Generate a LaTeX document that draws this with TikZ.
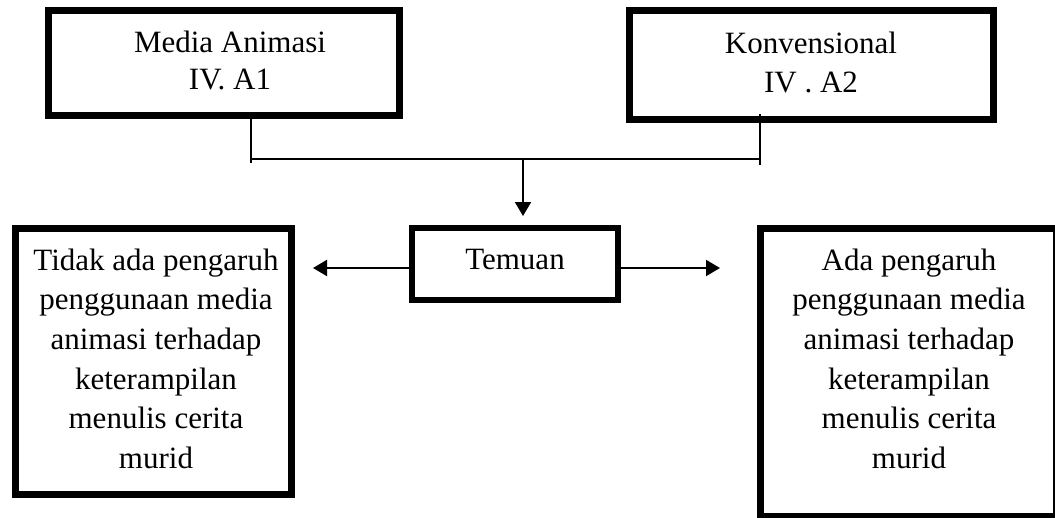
\documentclass[tikz,border=0pt]{standalone}
\usepackage{fontspec}
\setmainfont{Liberation Serif}
\usetikzlibrary{arrows.meta}
\begin{document}
\begin{tikzpicture}[x=1pt,y=-1pt,
  thickbox/.style={draw, line width=7pt, inner sep=0pt, outer sep=0pt},
  thinline/.style={line width=2pt},
  arr/.style={thinline, -{Triangle[width=16pt,length=14pt]}},
  txt/.style={align=center, inner sep=0pt, outer sep=0pt}]
\useasboundingbox (0,0) rectangle (1055,517);
% boxes
\node[thickbox, minimum width=351pt, minimum height=105pt] (A) at (224,63) {};
\node[thickbox, minimum width=364pt, minimum height=109pt] (B) at (811.5,65) {};
\node[thickbox, line width=6pt, minimum width=206pt, minimum height=72pt] (T) at (515,264) {};
\node[thickbox, minimum width=276pt, minimum height=266pt] (L) at (153.5,361.5) {};
\node[thickbox, minimum width=296pt, minimum height=288pt] (R) at (908.5,372.5) {};
% texts
\node[txt, anchor=north, font=\fontsize{31}{37.5}\selectfont] (At) at (230,30.8) {Media Animasi\\IV. A1};
\node[txt, anchor=north, font=\fontsize{31}{39}\selectfont] (Bt) at (811,31.8) {Konvensional\\IV . A2};
\node[txt, anchor=base, font=\fontsize{31}{37}\selectfont] (Tt) at (515,269) {Temuan};
\node[txt, anchor=north, font=\fontsize{31}{39.6}\selectfont] (Lt) at (156,248.8) {Tidak ada pengaruh\\penggunaan media\\animasi terhadap\\keterampilan\\menulis cerita\\murid};
\node[txt, anchor=north, font=\fontsize{31}{39.6}\selectfont] (Rt) at (909,248.8) {Ada pengaruh\\penggunaan media\\animasi terhadap\\keterampilan\\menulis cerita\\murid};
% connector points
\coordinate (l1) at (251,163);
\coordinate (r0) at (760,114);
\coordinate (r1) at (760,165);
\coordinate (j1) at (251,159);
\coordinate (j2) at (760,159);
\coordinate (jm) at (523,159);
\coordinate (tm) at (523,216);
\coordinate (tl) at (313,268);
\coordinate (tr) at (720,268);
% connectors
\draw[thinline] (A.south -| l1) -- (l1);
\draw[thinline] (r0) -- (r1);
\draw[thinline] (j1) -- (j2);
\draw[arr] (jm) -- (tm);
\draw[arr] (T.west |- tl) -- (tl);
\draw[arr] (T.east |- tr) -- (tr);
\end{tikzpicture}
\end{document}
